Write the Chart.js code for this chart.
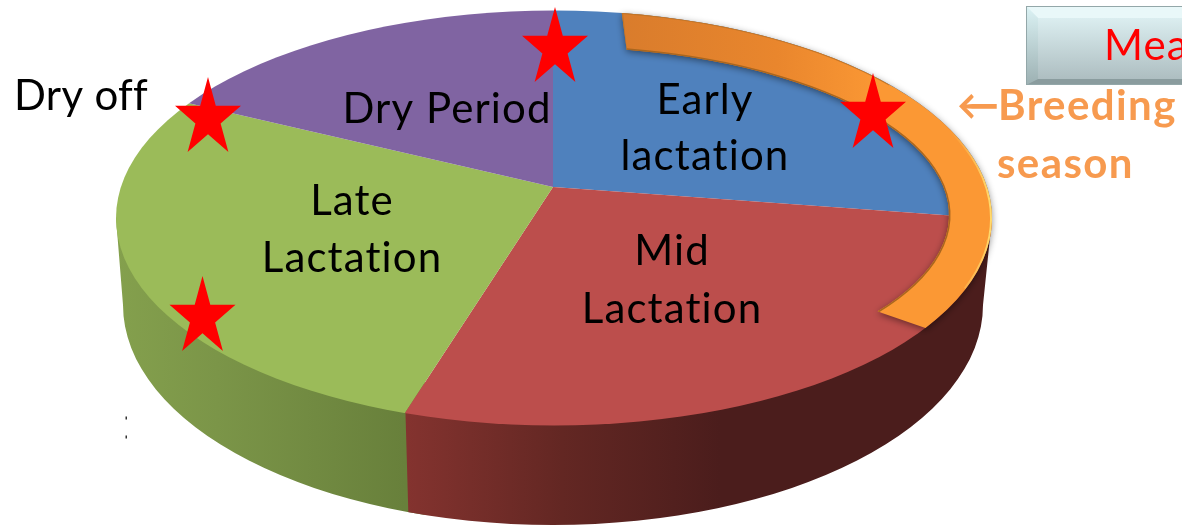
<!DOCTYPE html>
<html><head><meta charset="utf-8">
<style>html,body{margin:0;padding:0;background:#fff;overflow:hidden}canvas{display:block}</style>
<script src="https://cdn.jsdelivr.net/npm/chart.js@4"></script>
</head><body><canvas id="c" width="1182" height="525"></canvas>
<script>
const stages = ["Early lactation", "Mid Lactation", "Late Lactation", "Dry Period"];
const days = [100, 100, 100, 65];
const colours = ["#4F81BD", "#BC4E4C", "#9BBB59", "#8064A2"];

const FONT = 'Lato, "Open Sans", sans-serif';
const APEX = {x: 553, y: 187};
const TOP = {x: 554, y: 218, rx: 438, ry: 207.5};
const BOT = {x: 553, y: 305, rx: 430, ry: 220};
const SQUASH = 0.474;

function wallPath(ctx) {
  ctx.beginPath();
  ctx.moveTo(TOP.x - TOP.rx, TOP.y);
  ctx.lineTo(BOT.x - BOT.rx, BOT.y);
  ctx.ellipse(BOT.x, BOT.y, BOT.rx, BOT.ry, 0, Math.PI, 0, true);
  ctx.lineTo(TOP.x + TOP.rx, TOP.y);
  ctx.closePath();
}

function drawWalls(chart) {
  const ctx = chart.ctx;
  const arcs = chart.getDatasetMeta(0).data;
  // edge between Mid and Late slices, taken from the library's arc angle
  const a = arcs[1].endAngle;
  const ex = APEX.x + Math.cos(a) * 500, ey = APEX.y + Math.sin(a) * 500 * SQUASH;
  const t = (TOP.y + TOP.ry * 0.94 - APEX.y) / (ey - APEX.y);
  const splitX = APEX.x + (ex - APEX.x) * t;
  ctx.save();
  wallPath(ctx);
  ctx.clip();
  let g = ctx.createLinearGradient(116, 0, splitX, 0);
  g.addColorStop(0, "#84a04d");
  g.addColorStop(0.35, "#7b9548");
  g.addColorStop(1, "#68803b");
  ctx.fillStyle = g;
  ctx.fillRect(100, 200, splitX - 80, 330);
  g = ctx.createLinearGradient(splitX, 0, 720, 0);
  g.addColorStop(0, "#84332f");
  g.addColorStop(0.5, "#632723");
  g.addColorStop(1, "#4b1d1c");
  ctx.fillStyle = g;
  ctx.beginPath();
  ctx.moveTo(splitX, 390); ctx.lineTo(1000, 200); ctx.lineTo(1000, 530); ctx.lineTo(splitX + 4, 530);
  ctx.closePath();
  ctx.fill();
  ctx.restore();
}

function bandPath(ctx) {
  const d = Math.PI / 180;
  ctx.beginPath();
  ctx.ellipse(TOP.x, TOP.y, TOP.rx, TOP.ry, 0, -81.1 * d, 32 * d);
  ctx.lineTo(882, 313);
  ctx.ellipse(554, 215, 395, 168, 0, 35 * d, -79.4 * d, true);
  ctx.closePath();
}

function drawBand(ctx) {
  const d = Math.PI / 180;
  const g = ctx.createLinearGradient(622, 0, 880, 0);
  g.addColorStop(0, "#d97c2c");
  g.addColorStop(0.6, "#e9862d");
  g.addColorStop(1, "#fb9834");
  ctx.save();
  ctx.shadowColor = "rgba(0,0,0,.45)";
  ctx.shadowBlur = 7;
  ctx.shadowOffsetY = 2;
  bandPath(ctx);
  ctx.fillStyle = g;
  ctx.fill();
  ctx.restore();
  ctx.save();
  bandPath(ctx);
  ctx.clip();
  ctx.lineWidth = 3;
  ctx.strokeStyle = "#a9661f";
  ctx.beginPath();
  ctx.ellipse(554, 215, 395, 168, 0, 35 * d, -79.4 * d, true);
  ctx.stroke();
  const h = ctx.createLinearGradient(950, 0, 992, 0);
  h.addColorStop(0, "rgba(255,214,110,0)");
  h.addColorStop(1, "rgba(255,220,110,1)");
  ctx.lineWidth = 4;
  ctx.strokeStyle = h;
  ctx.beginPath();
  ctx.ellipse(TOP.x, TOP.y, TOP.rx, TOP.ry, 0, -30 * d, 20 * d);
  ctx.stroke();
  ctx.lineWidth = 2;
  ctx.strokeStyle = "#c27526";
  ctx.beginPath();
  ctx.ellipse(TOP.x, TOP.y, TOP.rx, TOP.ry, 0, -81 * d, -40 * d);
  ctx.stroke();
  ctx.beginPath();
  ctx.moveTo(622, 12); ctx.lineTo(626, 52);
  ctx.stroke();
  ctx.restore();
}

function drawStar(ctx, cx, cy) {
  const Rx = 34.7, Ry = 41.5, k = 0.382;
  ctx.beginPath();
  for (let i = 0; i < 10; i++) {
    const r = i % 2 ? k : 1, a = -Math.PI / 2 + i * Math.PI / 5;
    const x = cx + Math.cos(a) * Rx * r, y = cy + Math.sin(a) * Ry * r;
    i ? ctx.lineTo(x, y) : ctx.moveTo(x, y);
  }
  ctx.closePath();
  ctx.fillStyle = "#ff0000";
  ctx.fill();
}

function drawButton(ctx) {
  const L = 1026, T = 6, B = 85, R = 1200, bev = 12, bevB = 6;
  let g = ctx.createLinearGradient(0, T, 0, B);
  g.addColorStop(0, "#e4f7f9");
  g.addColorStop(1, "#a9b9bc");
  ctx.fillStyle = g;
  ctx.fillRect(L, T, R - L, B - T);
  ctx.fillStyle = "#e9f8f9";
  ctx.beginPath(); ctx.moveTo(L, T); ctx.lineTo(R, T); ctx.lineTo(R, T + bev); ctx.lineTo(L + bev, T + bev); ctx.closePath(); ctx.fill();
  g = ctx.createLinearGradient(0, T, 0, B);
  g.addColorStop(0, "#dcf3f5");
  g.addColorStop(1, "#9cb0b2");
  ctx.fillStyle = g;
  ctx.beginPath(); ctx.moveTo(L, T); ctx.lineTo(L + bev, T + bev); ctx.lineTo(L + bev, B - bevB); ctx.lineTo(L, B); ctx.closePath(); ctx.fill();
  ctx.fillStyle = "#8a9c9e";
  ctx.beginPath(); ctx.moveTo(L, B); ctx.lineTo(L + bev, B - bevB); ctx.lineTo(R, B - bevB); ctx.lineTo(R, B); ctx.closePath(); ctx.fill();
  ctx.strokeStyle = "#93a7a9";
  ctx.lineWidth = 1;
  ctx.strokeRect(L + .5, T + .5, R - L, B - T - 1);
}

function text(ctx, str, x, y, size, colour, weight, align, spacing) {
  ctx.font = (weight || "400") + " " + size + "px " + FONT;
  ctx.letterSpacing = (spacing === undefined ? 1.1 : spacing) + "px";
  ctx.fillStyle = colour;
  ctx.textAlign = align || "center";
  ctx.textBaseline = "alphabetic";
  ctx.fillText(str, x, y);
}

const pie3d = {
  id: "pie3d",
  beforeDatasetsDraw(chart) {
    const ctx = chart.ctx, el = chart.getDatasetMeta(0).data[0];
    drawWalls(chart);
    ctx.save();
    ctx.beginPath();
    ctx.ellipse(TOP.x, TOP.y, TOP.rx, TOP.ry, 0, 0, Math.PI * 2);
    ctx.clip();
    ctx.translate(APEX.x, APEX.y);
    ctx.scale(1, SQUASH);
    ctx.translate(-el.x, -el.y);
  },
  afterDatasetsDraw(chart) {
    const ctx = chart.ctx;
    ctx.restore();
    drawBand(ctx);
    drawButton(ctx);
    const black = "#000", orange = "#f79a4f";
    text(ctx, "Early", 705, 114, 42, black);
    text(ctx, "lactation", 705, 170, 42, black);
    text(ctx, "Dry Period", 447, 123, 42, black);
    text(ctx, "Late", 352, 215, 42, black);
    text(ctx, "Lactation", 352, 272, 42, black);
    text(ctx, "Mid", 672, 265, 42, black);
    text(ctx, "Lactation", 672, 323, 42, black);
    text(ctx, "Dry off", 14, 110, 42, black, "400", "left", 0.3);
    text(ctx, "Mea", 1104, 60, 42, "#ff0000", "400", "left");
    text(ctx, "←", 957, 120, 42, orange, "700", "left", 0);
    text(ctx, "Breeding", 998, 120, 42, orange, "700", "left", 1.4);
    text(ctx, "season", 997, 178, 42, orange, "700", "left", 1.4);
    [[555, 48.5], [873, 114.5], [208, 118.5], [202.5, 317.5]].forEach(p => drawStar(ctx, p[0], p[1]));
    ctx.fillStyle = "#333";
    ctx.fillRect(125.5, 416.5, 1.5, 3);
    ctx.fillRect(125.5, 435.5, 1.5, 3);
  }
};

new Chart(document.getElementById("c"), {
  type: "pie",
  data: {
    labels: stages,
    datasets: [{data: days, backgroundColor: colours, borderWidth: 0, clip: false}]
  },
  options: {
    responsive: false,
    animation: false,
    events: [],
    radius: 580,
    layout: {padding: 0},
    plugins: {legend: {display: false}, tooltip: {enabled: false}}
  },
  plugins: [pie3d]
});
</script></body></html>
